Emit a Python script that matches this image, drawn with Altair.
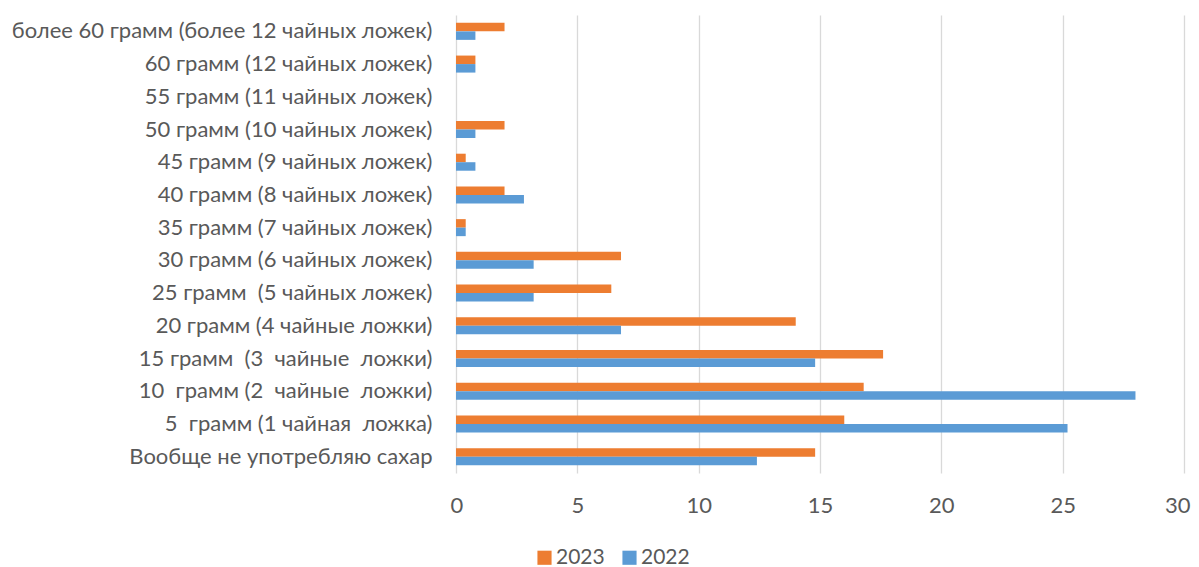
import altair as alt
import pandas as pd

categories = [
    "более 60 грамм (более 12 чайных ложек)",
    "60 грамм (12 чайных ложек)",
    "55 грамм (11 чайных ложек)",
    "50 грамм (10 чайных ложек)",
    "45 грамм (9 чайных ложек)",
    "40 грамм (8 чайных ложек)",
    "35 грамм (7 чайных ложек)",
    "30 грамм (6 чайных ложек)",
    "25 грамм  (5 чайных ложек)",
    "20 грамм (4 чайные ложки) ",
    "15 грамм  (3  чайные  ложки)",
    "10  грамм (2  чайные  ложки)",
    "5  грамм (1 чайная  ложка)",
    "Вообще не употребляю сахар",
]
values_2023 = [2.0, 0.8, 0.0, 2.0, 0.4, 2.0, 0.4, 6.8, 6.4, 14.0, 17.6, 16.8, 16.0, 14.8]
values_2022 = [0.8, 0.8, 0.0, 0.8, 0.8, 2.8, 0.4, 3.2, 3.2, 6.8, 14.8, 28.0, 25.2, 12.4]
series = ["2023", "2022"]
colors = ["#ED7D31", "#5B9BD5"]
x_ticks = [0, 5, 10, 15, 20, 25, 30]

def keep_spaces(s):
    return s.replace("  ", " \u00a0")

cats = [keep_spaces(c) for c in categories]
rows = []
for c, a, b in zip(cats, values_2023, values_2022):
    rows.append({"cat": c, "year": "2023", "value": a})
    rows.append({"cat": c, "year": "2022", "value": b})
df = pd.DataFrame(rows)

FONT = "Lato"
GREY = "#595959"
FS = 22

chart = alt.Chart(df).mark_bar().encode(
    y=alt.Y("cat:N", sort=cats, title=None,
            scale=alt.Scale(paddingInner=0.48, paddingOuter=0.24),
            axis=alt.Axis(domain=False, ticks=False, grid=False, labelPadding=24,
                          labelFont=FONT, labelFontSize=FS, labelColor=GREY,
                          labelLimit=600)),
    yOffset=alt.YOffset("year:N", sort=series, scale=alt.Scale(domain=series, paddingInner=0)),
    x=alt.X("value:Q", title=None,
            scale=alt.Scale(domain=[0, 30], nice=False),
            axis=alt.Axis(values=x_ticks, domain=False, ticks=False, grid=True,
                          gridColor="#D9D9D9", gridWidth=1.3, labelPadding=22,
                          labelFlush=True, labelFlushOffset=6,
                          labelFont=FONT, labelFontSize=FS, labelColor=GREY)),
    color=alt.Color("year:N", scale=alt.Scale(domain=series, range=colors),
                    legend=alt.Legend(title=None, orient="none", legendX=78, legendY=532,
                                      direction="horizontal", symbolType="square",
                                      symbolSize=200, symbolStrokeWidth=0,
                                      labelFont=FONT, labelFontSize=21, labelColor=GREY,
                                      columnPadding=14, labelOffset=1, padding=0)),
).properties(
    width=728, height=458,
    autosize=alt.AutoSizeParams(type="none"),
    padding={"left": 448, "top": 7, "right": 7, "bottom": 94},
).configure_view(stroke=None)

chart.save("out.html", embed_options={"renderer": "svg", "actions": False})
